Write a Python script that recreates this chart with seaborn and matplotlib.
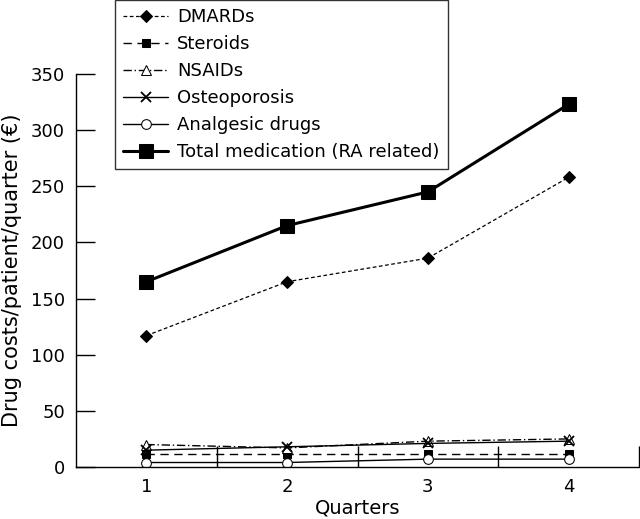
import matplotlib
matplotlib.use("Agg")
import matplotlib.pyplot as plt
import seaborn as sns
import pandas as pd

quarters = [1, 2, 3, 4]
dmards = [117, 165, 186, 258]
steroids = [12, 12, 12, 12]
nsaids = [20, 17, 23, 25]
osteoporosis = [15, 18, 21, 23]
analgesic = [4, 4, 7, 7]
total = [165, 215, 245, 323]
series_names = ["DMARDs", "Steroids", "NSAIDs", "Osteoporosis",
                "Analgesic drugs", "Total medication (RA related)"]
series_values = [dmards, steroids, nsaids, osteoporosis, analgesic, total]

sns.set_style("ticks")
plt.rcParams['font.family'] = ['DejaVu Sans']
plt.rcParams.update({'text.color': 'black', 'axes.labelcolor': 'black',
                     'xtick.color': 'black', 'ytick.color': 'black'})

fig = plt.figure(figsize=(6.4, 5.19), dpi=100)
ax = fig.add_axes([76/640, 52/519, (639-76)/640, (467-74)/519])

styles = [
    dict(linestyle=(0, (3, 2)), marker='D', markersize=6, markerfacecolor='black', linewidth=0.9),
    dict(linestyle=(0, (6, 4)), marker='s', markersize=6, markerfacecolor='black', linewidth=1.0),
    dict(linestyle=(0, (6, 2, 1, 2)), marker='^', markersize=7, markerfacecolor='white', linewidth=1.0),
    dict(linestyle='-', marker='x', markersize=7, markerfacecolor='black', linewidth=1.0, markeredgewidth=1.3),
    dict(linestyle='-', marker='o', markersize=7, markerfacecolor='white', linewidth=1.0),
    dict(linestyle='-', marker='s', markersize=10, markerfacecolor='black', linewidth=2.2),
]

for name, vals, st in zip(series_names, series_values, styles):
    df = pd.DataFrame({"Quarter": quarters, "Cost": vals})
    sns.lineplot(data=df, x="Quarter", y="Cost", ax=ax, color='black',
                 markeredgecolor='black', label=name, **st)

ax.set_xlim(0.5, 4.5)
ax.set_ylim(0, 350)
ax.set_yticks([0, 50, 100, 150, 200, 250, 300, 350])
ax.set_xticks(quarters)
ax.set_xticks([1.5, 2.5, 3.5, 4.5], minor=True)
ax.tick_params(axis='x', which='major', length=0, labelsize=13, pad=8)
ax.tick_params(axis='x', which='minor', direction='in', length=15, width=1, color='black')
ax.tick_params(axis='y', direction='in', length=14, width=1, color='black', labelsize=13, pad=8)
for s in ['top', 'right']:
    ax.spines[s].set_visible(False)
for s in ['left', 'bottom']:
    ax.spines[s].set_color('black')
    ax.spines[s].set_linewidth(1.0)

ax.set_xlabel("Quarters", fontsize=14, labelpad=2)
ax.set_ylabel("Drug costs/patient/quarter (€)", fontsize=15, labelpad=6)

handles, labels = ax.get_legend_handles_labels()
ax.get_legend().remove()
leg = fig.legend(handles, labels, loc='upper left', bbox_to_anchor=(115/640, 1.0),
                 borderaxespad=0, frameon=True, fancybox=False, edgecolor='black',
                 fontsize=13, handlelength=2.5, labelspacing=0.5, borderpad=0.45,
                 handletextpad=0.5)
leg.get_frame().set_linewidth(1.0)

fig.savefig("out.png", dpi=100)
